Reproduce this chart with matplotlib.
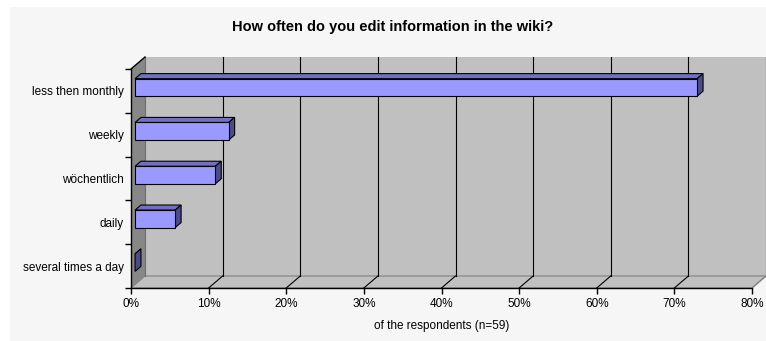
import numpy as np
import matplotlib
matplotlib.use('Agg')
import matplotlib.pyplot as plt
from matplotlib.patches import Polygon, Rectangle

plt.rcParams['font.family'] = ['Liberation Sans', 'DejaVu Sans']

# data: answers per category (bars are shares of the answers)
categories = ['several times a day', 'daily', 'wöchentlich', 'weekly', 'less then monthly']
counts = [0, 3, 6, 7, 42]
x_ticks = [0.0, 0.1, 0.2, 0.3, 0.4, 0.5, 0.6, 0.7, 0.8]
x_tick_labels = ['0%', '10%', '20%', '30%', '40%', '50%', '60%', '70%', '80%']
title = 'How often do you edit information in the wiki?'
x_label = 'of the respondents (n=59)'

shares = np.array(counts) / sum(counts)

W, H = 766, 341
fig = plt.figure(figsize=(W / 100, H / 100), dpi=100)
fig.patch.set_facecolor('white')
fig.patches.append(Rectangle((10 / W, 0), 1, 1 - 7 / H, transform=fig.transFigure,
                             facecolor='#f6f6f6', edgecolor='none', zorder=-10))

ax = fig.add_axes([131 / W, 53 / H, 621 / W, 219 / H])
ax.patch.set_visible(False)
ax.set_xlim(0, 0.8)
ax.set_ylim(-0.5, len(categories) - 0.5)
y0, y1 = ax.get_ylim()
xmax = 0.8

# depth of the 3d box in data units (14px right, 12px up)
DX = 14 * 0.8 / 621
DY = 12 * len(categories) / 219

wall = '#c0c0c0'
side = '#878787'
# back wall
ax.add_patch(Polygon([(DX, y0 + DY), (xmax + DX, y0 + DY), (xmax + DX, y1 + DY), (DX, y1 + DY)],
                     closed=True, facecolor=wall, edgecolor='none', clip_on=False, zorder=1))
# floor
ax.add_patch(Polygon([(0, y0), (xmax, y0), (xmax + DX, y0 + DY), (DX, y0 + DY)],
                     closed=True, facecolor=wall, edgecolor='#808080', lw=0.8, clip_on=False, zorder=1))
# left side wall
ax.add_patch(Polygon([(0, y0), (0, y1), (DX, y1 + DY), (DX, y0 + DY)],
                     closed=True, facecolor=side, edgecolor='none', clip_on=False, zorder=1.5))
ax.plot([0, DX], [y1, y1 + DY], color='black', lw=1, clip_on=False, zorder=3)
ax.plot([DX, DX], [y0 + DY, y1 + DY], color='#6e6e6e', lw=0.8, clip_on=False, zorder=1.6)

# gridlines on back wall and floor
for xv in x_ticks[1:]:
    ax.plot([xv + DX, xv + DX], [y0 + DY, y1 + DY], color='black', lw=0.8, clip_on=False, zorder=1.2)
    c = '#808080' if xv == xmax else 'black'
    ax.plot([xv, xv + DX], [y0, y0 + DY], color=c, lw=0.8, clip_on=False, zorder=1.2)

# bars
f0, f1 = 0.29, 0.71
d = f1 - f0
bh = 0.4
front_c, top_c, side_c = '#9999ff', '#7070c4', '#4c4c88'
for i, v in enumerate(shares):
    xa, xb = f0 * DX, v + f0 * DX
    ya, yb = i - bh / 2 + f0 * DY, i + bh / 2 + f0 * DY
    ox, oy = d * DX, d * DY
    ax.add_patch(Polygon([(xa, yb), (xb, yb), (xb + ox, yb + oy), (xa + ox, yb + oy)],
                         closed=True, facecolor=top_c, edgecolor='black', lw=0.8, clip_on=False, zorder=4))
    ax.add_patch(Polygon([(xb, ya), (xb, yb), (xb + ox, yb + oy), (xb + ox, ya + oy)],
                         closed=True, facecolor=side_c, edgecolor='black', lw=0.8, clip_on=False, zorder=4))
    if v > 0:
        ax.add_patch(Rectangle((xa, ya), v, bh, facecolor=front_c, edgecolor='black', lw=0.8,
                               clip_on=False, zorder=5))

# axes
for s in ['top', 'right']:
    ax.spines[s].set_visible(False)
for s in ['left', 'bottom']:
    ax.spines[s].set_color('black')
    ax.spines[s].set_linewidth(1)
    ax.spines[s].set_zorder(6)

ax.set_xticks(x_ticks)
ax.set_xticklabels(x_tick_labels, fontsize=8.5)
ax.set_yticks(np.arange(len(categories) + 1) - 0.5)
ax.set_yticklabels([])
ax.set_yticks(np.arange(len(categories)), minor=True)
ax.set_yticklabels(categories, minor=True, fontsize=8.5)
ax.tick_params(axis='both', which='major', direction='out', length=4, width=1, color='black')
ax.tick_params(axis='y', which='minor', length=0, pad=5)
ax.tick_params(axis='x', pad=3.5)

ax.set_xlabel(x_label, fontsize=8.5, labelpad=7)
fig.text(393 / W, 1 - 27 / H, title, ha='center', va='center', fontsize=10.5, fontweight='bold')

fig.savefig('out.png', dpi=100)
